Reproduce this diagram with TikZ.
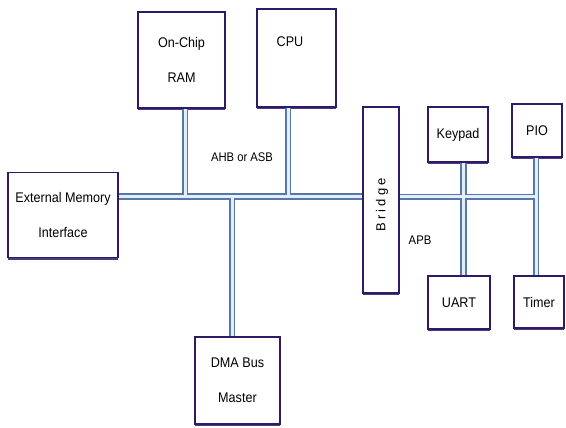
\documentclass[tikz,border=0pt]{standalone}
\usepackage{fontspec}
\setmainfont{Liberation Sans}[FakeStretch=0.9]
\newfontfamily\bridgefont{Liberation Sans}[LetterSpace=25]
\usetikzlibrary{shadows}
\definecolor{boxc}{HTML}{2E1A66}
\definecolor{busout}{HTML}{5577AA}
\definecolor{busin}{HTML}{E4EEF8}
\tikzset{
  box/.style={draw=boxc, line width=1.6pt, fill=white, inner sep=0pt, align=center,
    font=\fontsize{14}{35}\selectfont,
    drop shadow={shadow xshift=0pt, shadow yshift=-2.2pt, fill=boxc, opacity=0.85}},
  busa/.style={draw=busout, line width=6.5pt},
  busb/.style={draw=busin, line width=3pt},
  lbl/.style={font=\fontsize{12.5}{15}\selectfont, inner sep=0pt}
}
\begin{document}
\begin{tikzpicture}[x=1pt,y=-1pt]
\useasboundingbox (0,0) rectangle (566,428);
% boxes
\node[box, minimum width=87pt, minimum height=96pt] (ram) at (181.5,60) {On-Chip\\RAM};
\node[box, minimum width=79pt, minimum height=98pt] (cpu) at (296.5,58) {};
\node[lbl, font=\fontsize{14}{16}\selectfont] (cpulbl) at (290,42) {CPU};
\node[box, minimum width=110pt, minimum height=85pt] (emi) at (63,215) {External Memory\\Interface};
\node[box, minimum width=85pt, minimum height=87pt] (dma) at (237.5,380.5) {DMA Bus\\Master};
\node[box, minimum width=36pt, minimum height=186pt] (bridge) at (381,200) {};
\node[rotate=90, font=\bridgefont\fontsize{13}{14}\selectfont, inner sep=0pt] (bridgelbl) at (382,205) {Bridge};
\node[box, minimum width=60pt, minimum height=55pt] (key) at (458,134.5) {Keypad};
\node[box, minimum width=50pt, minimum height=53pt] (pio) at (537,130.5) {PIO};
\node[box, minimum width=62pt, minimum height=53pt] (uart) at (459,302.5) {UART};
\node[box, minimum width=50pt, minimum height=52pt] (timer) at (539,302) {Timer};
% bus junction coordinates
\coordinate (ahb) at (0,196.5);
\coordinate (apb) at (0,197);
\coordinate (ramx) at (185,0);
\coordinate (cpux) at (288,0);
\coordinate (dmax) at (232,0);
\coordinate (keyx) at (463.5,0);
\coordinate (piox) at (536,0);
\foreach \s in {busa,busb}{
  \draw[\s] (emi.east |- ahb) -- (bridge.west |- ahb);
  \draw[\s] (ramx |- ram.south) -- (ramx |- ahb);
  \draw[\s] (cpux |- cpu.south) -- (cpux |- ahb);
  \draw[\s] (dmax |- ahb) -- (dmax |- dma.north);
  \draw[\s] (bridge.east |- apb) -- (piox |- apb);
  \draw[\s] (keyx |- key.south) -- (keyx |- uart.north);
  \draw[\s] (piox |- pio.south) -- (piox |- timer.north);
}
% labels
\node[lbl] (ahblbl) at (242,157) {AHB or ASB};
\node[lbl] (apblbl) at (420,240) {APB};
\end{tikzpicture}
\end{document}
